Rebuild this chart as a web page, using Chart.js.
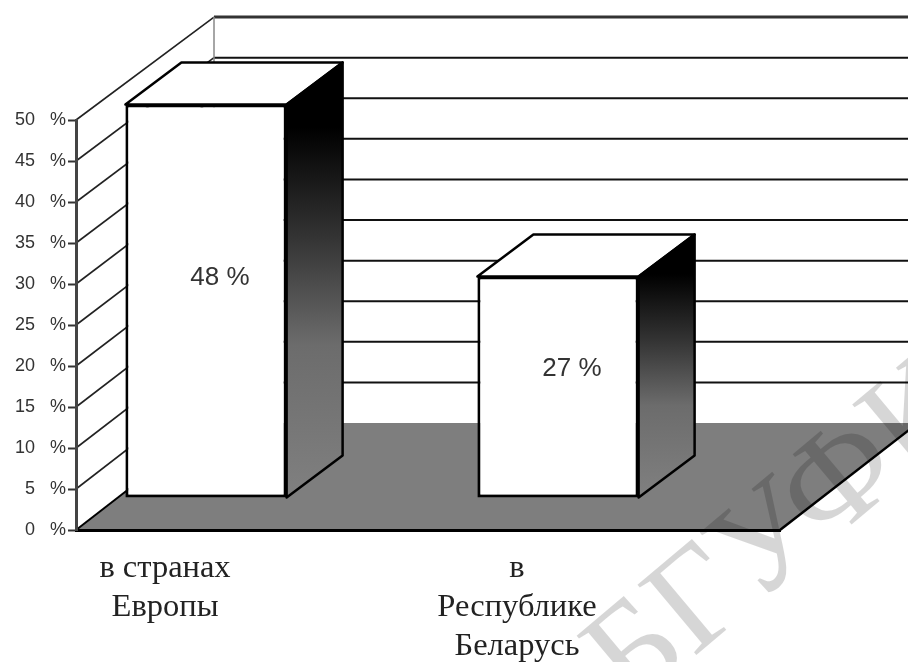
<!DOCTYPE html>
<html>
<head>
<meta charset="utf-8">
<title>Chart</title>
<style>
  html, body { margin: 0; background: #fff; }
  canvas { display: block; }
</style>
<script src="https://cdn.jsdelivr.net/npm/chart.js@4"></script>
</head>
<body>
<canvas id="myChart" width="908" height="662"></canvas>
<script>
const categories = [['в странах', 'Европы'], ['в', 'Республике', 'Беларусь']];
const shares = [48, 27];
const axis_max = 50;
const axis_step = 5;
const stamp_text = 'БГУФК';

// oblique projection of the box: back wall offset and bar offset/depth
const wall_dx = 138, wall_dy = 107, wall_squeeze = 0.99;
const bar_dx = -46, bar_dy = -32;
const depth_dx = 56, depth_dy = -42;

function line(ctx, x1, y1, x2, y2, color, width){
  ctx.strokeStyle = color;
  ctx.lineWidth = width;
  ctx.beginPath();
  ctx.moveTo(x1, y1);
  ctx.lineTo(x2, y2);
  ctx.stroke();
}

function poly(ctx, pts, fill, stroke, width){
  ctx.beginPath();
  pts.forEach((p, i) => i ? ctx.lineTo(p[0], p[1]) : ctx.moveTo(p[0], p[1]));
  ctx.closePath();
  ctx.fillStyle = fill;
  ctx.fill();
  if(stroke){
    ctx.strokeStyle = stroke;
    ctx.lineWidth = width;
    ctx.lineJoin = 'round';
    ctx.stroke();
  }
}

// side wall, back wall and floor, all hung off the y scale
const walls = {
  id: 'walls',
  beforeDraw(chart){
    const {ctx, scales: {x, y}} = chart;
    const y0 = y.getPixelForValue(0);
    const back = v => y0 - wall_dy - (y0 - y.getPixelForValue(v)) * wall_squeeze;
    const bx = x.left + wall_dx;
    ctx.save();
    y.ticks.forEach(t => {
      const py = y.getPixelForValue(t.value);
      if(t.value > 0){
        line(ctx, x.left, py, bx, back(t.value), '#222', 1.6);
        line(ctx, bx, back(t.value), x.right + wall_dx, back(t.value), t.value === axis_max ? '#333' : '#111', t.value === axis_max ? 3 : 2);
      }
    });
    line(ctx, bx, back(axis_max), bx, back(0), '#888', 1.5);
    poly(ctx, [[x.left, y0], [x.right, y0], [x.right + wall_dx, back(0)], [bx, back(0)]], '#7e7e7e');
    line(ctx, x.left, y0, bx, back(0), '#000', 2);
    line(ctx, x.right, y0, x.right + wall_dx, back(0), '#000', 2.5);
    ctx.restore();
  }
};

// top and side faces behind each bar, the front face itself is the library's
const bars3d = {
  id: 'bars3d',
  beforeDatasetsDraw(chart){
    const ctx = chart.ctx;
    ctx.save();
    ctx.translate(bar_dx, bar_dy);
    chart.getDatasetMeta(0).data.forEach(el => {
      const {x, y, base, width} = el.getProps(['x', 'y', 'base', 'width'], true);
      const l = x - width / 2, r = x + width / 2;
      const g = ctx.createLinearGradient(0, y + depth_dy, 0, base);
      g.addColorStop(0, '#000');
      g.addColorStop(0.15, '#000');
      g.addColorStop(0.4, '#333');
      g.addColorStop(0.65, '#6c6c6c');
      g.addColorStop(1, '#808080');
      poly(ctx, [[l, y], [l + depth_dx, y + depth_dy], [r + depth_dx, y + depth_dy], [r, y]], '#fff', '#000', 2.5);
      poly(ctx, [[r, y], [r + depth_dx, y + depth_dy], [r + depth_dx, base + depth_dy], [r, base]], g, '#000', 2.5);
    });
  },
  afterDatasetsDraw(chart){
    const ctx = chart.ctx;
    ctx.restore();
    ctx.save();
    ctx.font = '26px "Liberation Sans"';
    ctx.fillStyle = '#333';
    ctx.textAlign = 'center';
    ctx.textBaseline = 'middle';
    chart.getDatasetMeta(0).data.forEach((el, i) => {
      const {x, y, base} = el.getProps(['x', 'y', 'base'], true);
      ctx.fillText(shares[i] + ' %', x + bar_dx + 14, y + bar_dy + (base - y) * 0.468 - 11);
    });
    ctx.restore();
  }
};

// faint diagonal stamp over everything
const stamp = {
  id: 'stamp',
  afterDraw(chart){
    const ctx = chart.ctx;
    ctx.save();
    ctx.translate(782, 535);
    ctx.rotate(-40 * Math.PI / 180);
    ctx.font = '140px "Liberation Serif"';
    ctx.textAlign = 'center';
    ctx.textBaseline = 'middle';
    ctx.fillStyle = 'rgba(0, 0, 0, 0.16)';
    ctx.fillText(stamp_text, 0, 0);
    ctx.restore();
  }
};

const c = new Chart(document.getElementById('myChart'), {
  type: 'bar',
  data: {
    labels: categories,
    datasets: [{
      data: shares,
      backgroundColor: '#fff',
      borderColor: '#000',
      borderWidth: 3,
      borderSkipped: false,
      barPercentage: 1,
      categoryPercentage: 0.458
    }]
  },
  options: {
    responsive: false,
    animation: false,
    layout: { padding: { left: 0, top: 120, right: 128, bottom: 0 } },
    plugins: { legend: { display: false }, tooltip: { enabled: false } },
    scales: {
      x: {
        afterFit(s){ s.height = 132; },
        grid: { display: false, drawTicks: false },
        border: { color: '#000', width: 3 },
        ticks: {
          autoSkip: false,
          maxRotation: 0,
          minRotation: 0,
          padding: 19,
          labelOffset: -87,
          color: '#222',
          font: { family: '"Liberation Serif"', size: 32.5, lineHeight: 1.2 }
        }
      },
      y: {
        min: 0,
        max: axis_max,
        afterFit(s){ s.width = 76; },
        grid: { drawOnChartArea: false, tickLength: 8, tickColor: '#333', tickWidth: 2 },
        border: { color: '#444', width: 3 },
        ticks: {
          stepSize: axis_step,
          padding: 2,
          color: '#333',
          font: { family: '"Liberation Sans"', size: 18 },
          callback: v => v + '   %'
        }
      }
    }
  },
  plugins: [walls, bars3d, stamp]
});
</script>
</body>
</html>
